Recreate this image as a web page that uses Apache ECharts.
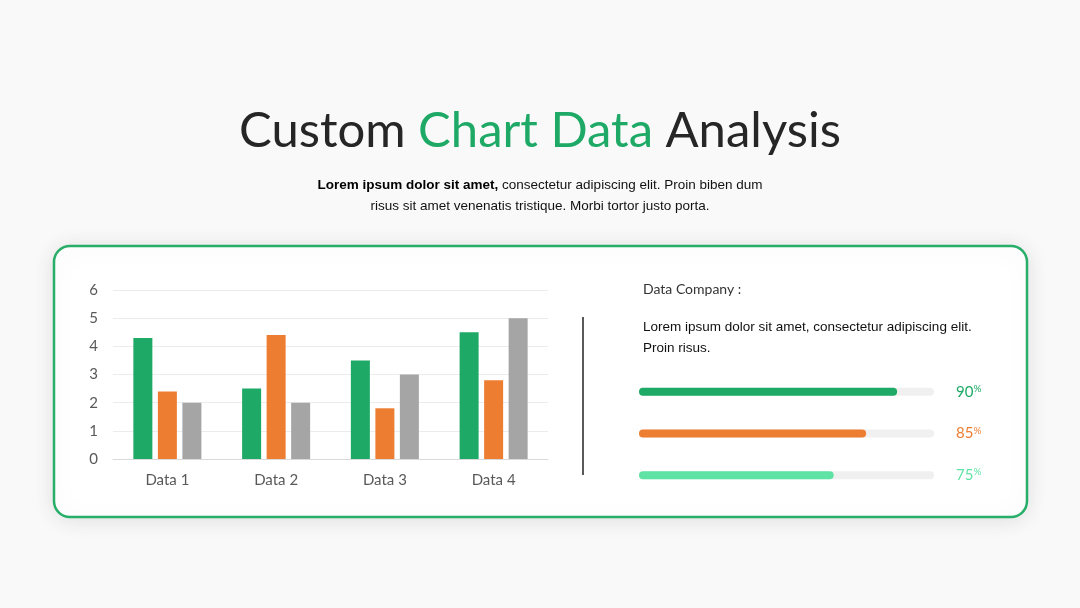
<!DOCTYPE html>
<html>
<head>
<meta charset="utf-8">
<script src="https://cdn.jsdelivr.net/npm/echarts@6/dist/echarts.min.js"></script>
<style>
html,body{margin:0;padding:0;background:#f9f9f9;}
#c{width:1080px;height:608px;}
</style>
</head>
<body>
<div id="c"></div>
<script>
// ---- data ----
const categories = ['Data 1', 'Data 2', 'Data 3', 'Data 4'];
const series1 = [4.3, 2.5, 3.5, 4.5];
const series2 = [2.4, 4.4, 1.8, 2.8];
const series3 = [2.0, 2.0, 3.0, 5.0];
const yTicks = [0, 6, 1]; // min, max, interval

const progressNames = ['A', 'B', 'C'];
const progressFill = [87.5, 77, 66];      // visible fill length (% of track)
const progressLabels = ['90', '85', '75']; // printed percentages

const colGreen = '#1eaa66', colOrange = '#ed7d31', colGray = '#a5a5a5', colLight = '#5ee3a5';
const progColors = [colGreen, colOrange, colLight];

const chart = echarts.init(document.getElementById('c'), null, {renderer: 'canvas'});

const option = {
  backgroundColor: '#f9f9f9',
  animation: false,
  graphic: [
    {
      type: 'rect', z: -10,
      shape: {x: 54, y: 246, width: 973, height: 271, r: 16},
      style: {fill: '#ffffff', stroke: '#27ae68', lineWidth: 2.5,
              shadowBlur: 22, shadowColor: 'rgba(0,0,0,0.10)', shadowOffsetY: 2}
    },
    {
      type: 'text', x: 540, y: 131,
      style: {
        text: '{d|Custom }{g|Chart Data}{d| Analysis}',
        align: 'center', verticalAlign: 'middle',
        rich: {
          d: {fontFamily: 'Lato', fontSize: 49, fill: '#262626'},
          g: {fontFamily: 'Lato', fontSize: 49, fill: colGreen}
        }
      }
    },
    {
      type: 'text', x: 540, y: 196,
      style: {
        text: '{b|Lorem ipsum dolor sit amet,}{n| consectetur adipiscing elit. Proin biben dum}\n{n|risus sit amet venenatis tristique. Morbi tortor justo porta.}',
        align: 'center', verticalAlign: 'middle',
        rich: {
          b: {fontFamily: 'Liberation Sans', fontSize: 13.5, fontWeight: 'bold', fill: '#000', lineHeight: 21, align: 'center'},
          n: {fontFamily: 'Liberation Sans', fontSize: 13.5, fill: '#111', lineHeight: 21, align: 'center'}
        }
      }
    },
    {
      type: 'line',
      shape: {x1: 583, y1: 317, x2: 583, y2: 475},
      style: {stroke: '#222', lineWidth: 1.5}
    },
    {
      type: 'text', x: 643, y: 289,
      style: {text: 'Data Company :', fontFamily: 'Lato', fontSize: 14, fill: '#333', verticalAlign: 'middle'}
    },
    {
      type: 'text', x: 643, y: 338,
      style: {
        text: 'Lorem ipsum dolor sit amet, consectetur adipiscing elit.\nProin risus.',
        fontFamily: 'Liberation Sans', fontSize: 13.5, fill: '#111', lineHeight: 21, verticalAlign: 'middle'
      }
    }
  ],
  grid: [
    {left: 113, right: 532, top: 290, bottom: 149},
    {left: 639, right: 146, top: 371, bottom: 112}
  ],
  xAxis: [
    {
      gridIndex: 0, type: 'category', data: categories,
      axisLine: {lineStyle: {color: '#d9d9d9', width: 1}},
      axisTick: {show: false},
      axisLabel: {color: '#595959', fontFamily: 'Lato', fontSize: 15, margin: 14}
    },
    {gridIndex: 1, type: 'value', min: 0, max: 100, show: false}
  ],
  yAxis: [
    {
      gridIndex: 0, type: 'value', min: yTicks[0], max: yTicks[1], interval: yTicks[2],
      axisLine: {show: false}, axisTick: {show: false},
      splitLine: {lineStyle: {color: '#ececec', width: 1}},
      axisLabel: {color: '#595959', fontFamily: 'Lato', fontSize: 15, margin: 15}
    },
    {
      gridIndex: 1, type: 'category', data: progressNames, inverse: true, position: 'right',
      axisLine: {show: false}, axisTick: {show: false}, splitLine: {show: false},
      axisLabel: {
        margin: 22, align: 'left',
        formatter: (v, i) => '{n|' + progressLabels[i] + '}{s|%}',
        rich: {
          n: {fontFamily: 'Lato', fontSize: 15},
          s: {fontFamily: 'Lato', fontSize: 10, verticalAlign: 'top', padding: [0, 0, 6, 0]}
        },
        color: (v, i) => progColors[i]
      }
    }
  ],
  series: [
    {type: 'bar', xAxisIndex: 0, yAxisIndex: 0, data: series1, barWidth: 19, barGap: '29%', itemStyle: {color: colGreen}},
    {type: 'bar', xAxisIndex: 0, yAxisIndex: 0, data: series2, barWidth: 19, barGap: '29%', itemStyle: {color: colOrange}},
    {type: 'bar', xAxisIndex: 0, yAxisIndex: 0, data: series3, barWidth: 19, barGap: '29%', itemStyle: {color: colGray}},
    {
      type: 'bar', xAxisIndex: 1, yAxisIndex: 1, barWidth: 8,
      data: progressFill.map((v, i) => ({value: v, itemStyle: {color: progColors[i]}})),
      itemStyle: {borderRadius: 4},
      showBackground: true,
      backgroundStyle: {color: '#f0f0f0', borderRadius: 4}
    }
  ]
};
chart.setOption(option);
</script>
</body>
</html>
